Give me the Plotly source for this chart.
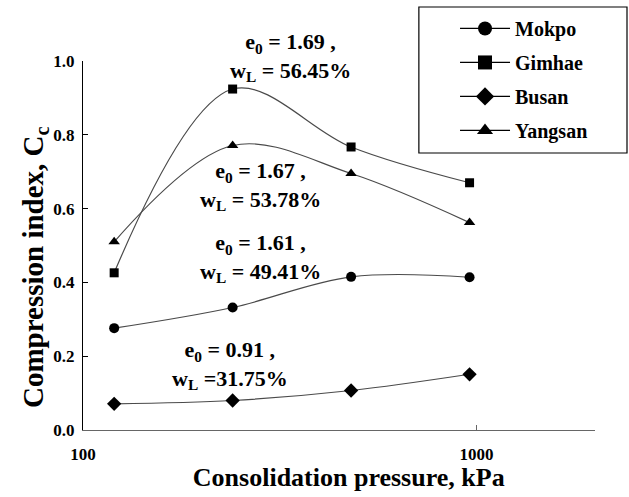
import numpy as np
import plotly.graph_objects as go

pressure = [120, 240, 480, 960]
series_names = ["Mokpo", "Gimhae", "Busan", "Yangsan"]
mokpo = [0.276, 0.332, 0.415, 0.414]
gimhae = [0.426, 0.924, 0.767, 0.670]
busan = [0.071, 0.080, 0.107, 0.151]
yangsan = [0.510, 0.771, 0.695, 0.562]
symbols = ["circle", "square", "diamond", "triangle-up"]
marker_sizes = [10, 9, 11, 10]
x_ticks = [100, 1000]
x_ticktext = ["100", "1000"]

# annotation labels: (text, x in kPa, y in Cc)
labels = [
    ("e<sub>0</sub> = 1.69 ,<br>w<sub>L</sub> = 56.45%", 337, 1.012),
    ("e<sub>0</sub> = 1.67 ,<br>w<sub>L</sub> = 53.78%", 283, 0.662),
    ("e<sub>0</sub> = 1.61 ,<br>w<sub>L</sub> = 49.41%", 283, 0.466),
    ("e<sub>0</sub> = 0.91 ,<br>w<sub>L</sub> =31.75%", 236, 0.176),
]

FONT = "Liberation Serif, Times New Roman, serif"
values = [mokpo, gimhae, busan, yangsan]

fig = go.Figure()
for name, vals, sym, ms in zip(series_names, values, symbols, marker_sizes):
    fig.add_trace(go.Scatter(
        x=pressure, y=vals, mode="lines+markers", name=name,
        line=dict(color="#4a4a4a", width=1.2, shape="spline", smoothing=1),
        marker=dict(symbol=sym, size=ms, color="black"),
        showlegend=False, legendgroup=name,
    ))
# legend entries (no data points)
for name, sym in zip(series_names, symbols):
    fig.add_trace(go.Scatter(
        x=[None], y=[None], mode="lines+markers", name=name,
        line=dict(color="black", width=1.3),
        marker=dict(symbol=sym, size=14, color="black"),
        showlegend=True, legendgroup=name,
    ))

for text, xv, yv in labels:
    fig.add_annotation(
        x=np.log10(xv), y=yv, xref="x", yref="paper", text=text, showarrow=False,
        xanchor="center", yanchor="middle",
        font=dict(family=FONT, size=22, color="black", weight="bold"),
        align="center",
    )

fig.add_shape(type="rect", xref="paper", yref="paper",
              x0=0.656, x1=1.0625, y0=0.7507, y1=1.1463,
              line=dict(color="black", width=1.2), fillcolor="rgba(0,0,0,0)")

fig.update_layout(
    width=629, height=497,
    margin=dict(l=83, r=34, t=61, b=67, autoexpand=False),
    paper_bgcolor="white", plot_bgcolor="white",
    font=dict(family=FONT, color="black", weight="bold"),
    legend=dict(
        xref="container", yref="container",
        x=0.7234, y=0.982, xanchor="left", yanchor="top",
        bgcolor="rgba(0,0,0,0)", borderwidth=0,
        font=dict(family=FONT, size=20, color="black", weight="bold"),
        tracegroupgap=5, itemwidth=50,
    ),
    xaxis=dict(
        type="log", range=[2, np.log10(2000)], automargin=False,
        tickmode="array", tickvals=x_ticks, ticktext=x_ticktext,
        ticks="inside", ticklen=5, tickcolor="#666",
        showline=True, linecolor="#666", linewidth=1.2,
        showgrid=False, zeroline=False, ticklabelstandoff=8,
        tickfont=dict(family=FONT, size=17, color="black", weight="bold"),
        title=dict(text="&nbsp;&nbsp;&nbsp;Consolidation pressure, kPa", standoff=0,
                   font=dict(family=FONT, size=26, color="black", weight="bold")),
    ),
    yaxis=dict(
        range=[0, 1], dtick=0.2, tickformat=".1f", automargin=False,
        ticks="inside", ticklen=5, tickcolor="black",
        showline=True, linecolor="black", linewidth=1.2,
        showgrid=False, zeroline=False, ticklabelstandoff=4,
        tickfont=dict(family=FONT, size=17, color="black", weight="bold"),
        title=dict(text="Compression index, C<sub>c</sub>&nbsp;&nbsp;&nbsp;&nbsp;&nbsp;&nbsp;", standoff=0,
                   font=dict(family=FONT, size=29, color="black", weight="bold")),
    ),
)

fig.write_html("out.html", config={"displayModeBar": False},
               post_script="document.body.style.margin='0';")
